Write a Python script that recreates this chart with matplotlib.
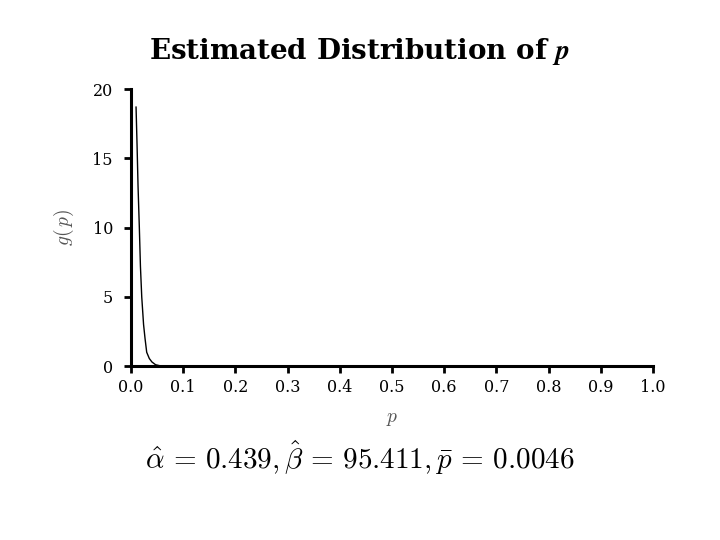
import matplotlib
matplotlib.use("Agg")
import matplotlib.pyplot as plt

plt.rcParams['mathtext.fontset'] = 'cm'
plt.rcParams['font.family'] = 'DejaVu Serif'

# points
p_vals = [0.0096, 0.0115, 0.0134, 0.0159, 0.018, 0.0205, 0.024, 0.0268, 0.030,
          0.035, 0.040, 0.047, 0.056, 0.07, 0.1, 0.3, 0.5, 0.7, 0.9, 1.0]
g_vals = [18.7, 16.0, 13.0, 10.0, 7.2, 5.0, 3.0, 2.0, 1.0,
          0.55, 0.3, 0.1, 0.02, 0.0, 0.0, 0.0, 0.0, 0.0, 0.0, 0.0]

x_ticks = [0.0, 0.1, 0.2, 0.3, 0.4, 0.5, 0.6, 0.7, 0.8, 0.9, 1.0]
y_ticks = [0, 5, 10, 15, 20]

fig = plt.figure(figsize=(7.2, 5.4), dpi=100)
ax = fig.add_axes([0.182, 0.322, 0.725, 0.513])

ax.plot(p_vals, g_vals, color='black', linewidth=1.0)

ax.set_xlim(0, 1.0)
ax.set_ylim(0, 20)
ax.set_xticks(x_ticks)
ax.set_xticklabels([f"{t:.1f}" for t in x_ticks])
ax.set_yticks(y_ticks)

for side in ['top', 'right']:
    ax.spines[side].set_visible(False)
for side in ['left', 'bottom']:
    ax.spines[side].set_linewidth(2.2)
ax.tick_params(direction='out', length=5, width=2, labelsize=11.5, pad=4, colors='black')
ax.tick_params(axis='y', pad=8)

ax.set_xlabel(r'$p$', fontsize=14, color='#555555', labelpad=10)
ax.set_ylabel(r'$g(\,p)$', fontsize=14, color='#555555', labelpad=12)

fig.text(0.499, 0.905, r'Estimated Distribution of $\boldsymbol{p}$', ha='center', va='center',
         fontsize=20, fontweight='bold')
fig.text(0.5, 0.152, r'$\hat{\alpha}\, =\, 0.439, \hat{\beta}\, =\, 95.411, \bar{p}\, =\, 0.0046$',
         ha='center', va='center', fontsize=21)

fig.savefig('out.png', dpi=100)
